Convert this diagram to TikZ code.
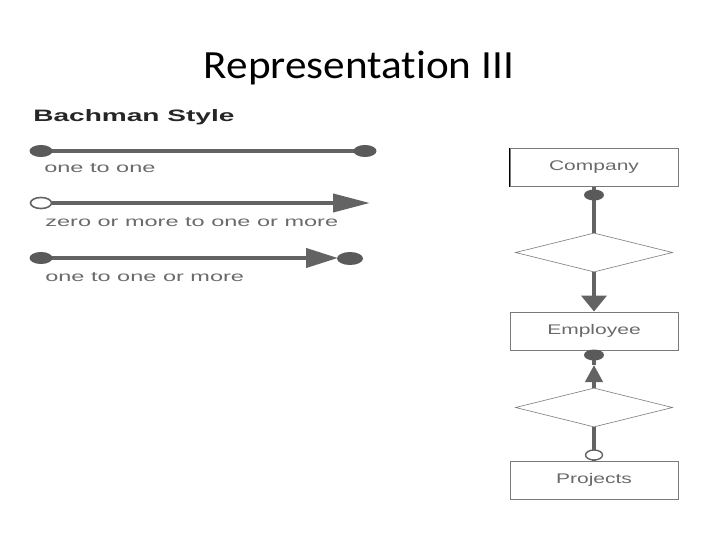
\documentclass[tikz,border=0pt]{standalone}
\usepackage{fontspec}
\setmainfont{Liberation Sans}
\newfontfamily\titlefont[Ligatures=NoCommon]{Carlito}
\usetikzlibrary{shapes.geometric,arrows.meta}
\definecolor{lg}{HTML}{636363}
\definecolor{dg}{HTML}{5A5A5A}
\definecolor{tg}{HTML}{6A6A6A}
\definecolor{bx}{HTML}{7A7A7A}
\begin{document}
\begin{tikzpicture}[x=1pt,y=-1pt,
  ln/.style={draw=lg,line width=4pt},
  dotL/.style={ellipse,fill=dg,draw=none,minimum width=23pt,minimum height=12pt,inner sep=0pt},
  odotL/.style={ellipse,fill=white,draw=lg,line width=1.6pt,minimum width=21pt,minimum height=11pt,inner sep=0pt},
  dotR/.style={ellipse,fill=dg,draw=none,minimum width=20pt,minimum height=11pt,inner sep=0pt},
  odotR/.style={ellipse,fill=white,draw=lg,line width=1.4pt,minimum width=17pt,minimum height=10pt,inner sep=0pt},
  legtxt/.style={anchor=west,inner sep=0pt,text=tg,font=\fontsize{14}{14}\selectfont,xscale=1.68},
  entity/.style={rectangle,draw=bx,line width=0.9pt,minimum width=168pt,minimum height=38pt,inner sep=0pt,text=tg,font=\fontsize{14}{14}\selectfont},
  rel/.style={diamond,draw=bx,line width=0.6pt,minimum width=157pt,minimum height=39pt,inner sep=0pt}
]
\useasboundingbox (0,0) rectangle (720,540);
% title
\node[inner sep=0pt,anchor=base,font=\titlefont\fontsize{40}{40}\selectfont,xscale=1.08] (title) at (359,79) {Representation III};
% legend
\node[anchor=base west,inner sep=0pt,font=\bfseries\fontsize{16.5}{16.5}\selectfont,xscale=1.7,text=black!85] (bach) at (33,122) {Bachman Style};
% line 1
\coordinate (a1) at (41,151);
\coordinate (b1) at (365,151);
\draw[ln] (a1) -- (b1);
\node[dotL] (a1d) at (a1) {};
\node[dotL] (b1d) at (b1) {};
\node[legtxt] (t1) at (44,168) {one to one};
% line 2
\node[odotL] (a2d) at (41,203) {};
\coordinate (b2) at (370,203);
\draw[ln,-{Triangle[length=37pt,width=18pt]}] (a2d.east) -- (b2);
\node[legtxt] (t2) at (45,222.5) {zero or more to one or more};
% line 3
\coordinate (a3) at (41,258);
\coordinate (b3) at (338,258);
\draw[ln,-{Triangle[length=32pt,width=19pt]}] (a3) -- (b3);
\node[dotL] (a3d) at (a3) {};
\node[dotL,minimum width=26pt,minimum height=13pt] (b3d) at (350,258.5) {};
\node[legtxt] (t3) at (45,277) {one to one or more};
% right diagram
\node[entity] (comp) at (594,167.5) {\raisebox{-1.5pt}{\scalebox{1.5}[1]{Company}}};
\draw[black,line width=1.6pt] (comp.north west) -- (comp.south west);
\node[rel] (d1) at (594,252.5) {};
\node[entity] (emp) at (594,331) {\raisebox{-1.5pt}{\scalebox{1.5}[1]{Employee}}};
\node[rel] (d2) at (594,407.5) {};
\node[entity] (proj) at (594,480) {\raisebox{-1.5pt}{\scalebox{1.5}[1]{Projects}}};
% connectors
\draw[ln] (comp.south) -- (d1.north);
\node[dotR] (cd) at (594,195) {};
\draw[ln,-{Triangle[length=16pt,width=25pt]}] (d1.south) -- (emp.north);
\coordinate (up) at (594,365);
\draw[ln] (emp.south) -- (up);
\draw[ln,-{Triangle[length=17pt,width=17pt]}] (d2.north) -- (up);
\node[dotR] (ed) at (594,355) {};
\draw[ln] (d2.south) -- (proj.north);
\node[odotR] (pd) at (594,455) {};
\end{tikzpicture}
\end{document}
